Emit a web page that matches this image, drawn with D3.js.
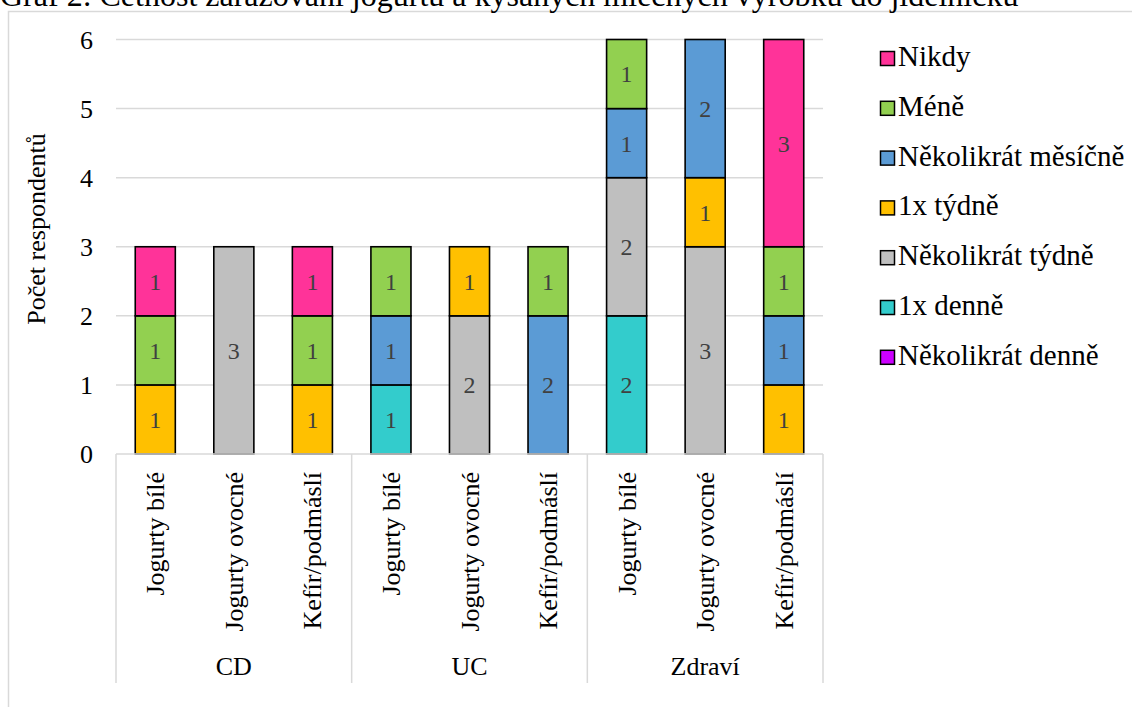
<!DOCTYPE html>
<html>
<head>
<meta charset="utf-8">
<script src="https://cdn.jsdelivr.net/npm/d3@7"></script>
<style>
  html, body { margin: 0; padding: 0; background: #fff; font-family: 'Liberation Serif'; }
  svg { display: block; font-family: 'Liberation Serif'; }
  text { font-family: 'Liberation Serif'; }
</style>
</head>
<body>
<svg id="chart" width="1132" height="707" font-family="Liberation Serif"></svg>
<script>
// Respondent groups and products (x axis, two levels)
const groups = ["CD", "UC", "Zdraví"];
const products = ["Jogurty bílé", "Jogurty ovocné", "Kefír/podmáslí"];

// Frequency answers, stacked from the bottom up
const seriesNames = ["Několikrát denně", "1x denně", "Několikrát týdně", "1x týdně", "Několikrát měsíčně", "Méně", "Nikdy"];
const seriesColors = ["#CC00FF", "#33CCCC", "#BFBFBF", "#FFC000", "#5B9BD5", "#92D050", "#FF3399"];

// Counts per bar, in order CD×3, UC×3, Zdraví×3
const nekolikratDenne  = [0, 0, 0, 0, 0, 0, 0, 0, 0];
const jednouDenne      = [0, 0, 0, 1, 0, 0, 2, 0, 0];
const nekolikratTydne  = [0, 3, 0, 0, 2, 0, 2, 3, 0];
const jednouTydne      = [1, 0, 1, 0, 1, 0, 0, 1, 1];
const nekolikratMesicne= [0, 0, 0, 1, 0, 2, 1, 2, 1];
const mene             = [1, 0, 1, 1, 0, 1, 1, 0, 1];
const nikdy            = [1, 0, 1, 0, 0, 0, 0, 0, 3];

const yTicks = [0, 1, 2, 3, 4, 5, 6];
const titleText = "Graf 2: Četnost zařazování jogurtů a kysaných mléčných výrobků do jídelníčku";
const yTitle = "Počet respondentů";

const seriesValues = [nekolikratDenne, jednouDenne, nekolikratTydne, jednouTydne, nekolikratMesicne, mene, nikdy];

// Build one row per bar
const rows = [];
groups.forEach((g, gi) => products.forEach((p, pi) => {
  const i = gi * products.length + pi;
  const row = { key: g + "|" + p, group: g, product: p };
  seriesNames.forEach((s, si) => { row[s] = seriesValues[si][i]; });
  rows.push(row);
}));

const svg = d3.select("#chart");
const gridColor = "#d9d9d9";

// Outer frame and title
svg.append("rect").attr("x", 8.5).attr("y", 11.5).attr("width", 1200).attr("height", 800)
  .attr("fill", "none").attr("stroke", gridColor).attr("stroke-width", 1.5);
svg.append("text").attr("x", 0).attr("y", 6).attr("font-size", 32).attr("fill", "#000").text(titleText);

const x = d3.scaleBand().domain(rows.map(r => r.key)).range([116, 823])
  .paddingInner(0.49).paddingOuter(0.245);
const y = d3.scaleLinear().domain([0, 6]).range([454, 39.5]);

// Horizontal gridlines
svg.append("g").selectAll("line").data(yTicks.filter(t => t > 0)).join("line")
  .attr("x1", 116).attr("x2", 823)
  .attr("y1", d => y(d)).attr("y2", d => y(d))
  .attr("stroke", gridColor).attr("stroke-width", 1.5);

// Y axis labels
const yAxis = d3.axisLeft(y).tickValues(yTicks).tickSize(0).tickPadding(0).tickFormat(d3.format("d"));
const yg = svg.append("g").attr("transform", "translate(93,0)").call(yAxis)
  .attr("font-size", 26).attr("font-family", null);
yg.select(".domain").remove();
yg.selectAll("text").attr("fill", "#000").attr("dy", "0.34em");

svg.append("text").attr("transform", "translate(45,229) rotate(-90)")
  .attr("text-anchor", "middle").attr("font-size", 26).attr("fill", "#000").text(yTitle);

// Stacked bars
const stack = d3.stack().keys(seriesNames);
const layers = stack(rows);
const layerG = svg.append("g").selectAll("g").data(layers).join("g")
  .attr("fill", (d, i) => seriesColors[i]);
layerG.selectAll("rect").data(d => d.filter(s => s[1] - s[0] > 0)).join("rect")
  .attr("x", d => x(d.data.key)).attr("width", x.bandwidth())
  .attr("y", d => y(d[1])).attr("height", d => y(d[0]) - y(d[1]))
  .attr("stroke", "#000").attr("stroke-width", 1.6);

// Value labels
layerG.selectAll("text").data(d => d.filter(s => s[1] - s[0] > 0)).join("text")
  .attr("x", d => x(d.data.key) + x.bandwidth() / 2)
  .attr("y", d => y((d[0] + d[1]) / 2))
  .attr("dy", "0.35em").attr("text-anchor", "middle")
  .attr("font-size", 24).attr("fill", "#404040")
  .text(d => d[1] - d[0]);

// Category axis: baseline, separators, labels
const axisBottom = 683;
svg.append("line").attr("x1", 116).attr("x2", 823).attr("y1", y(0)).attr("y2", y(0))
  .attr("stroke", gridColor).attr("stroke-width", 1.5);
const sepXs = groups.map((g, gi) => x(g + "|" + products[0]) - x.step() * x.paddingOuter());
sepXs.push(823);
svg.append("g").selectAll("line").data(sepXs).join("line")
  .attr("x1", d => d).attr("x2", d => d).attr("y1", y(0)).attr("y2", axisBottom)
  .attr("stroke", gridColor).attr("stroke-width", 1.5);

svg.append("g").selectAll("text").data(rows).join("text")
  .attr("transform", d => `translate(${x(d.key) + x.bandwidth() / 2 + 9},472) rotate(-90)`)
  .attr("text-anchor", "end").attr("font-size", 26).attr("fill", "#000")
  .text(d => d.product);

svg.append("g").selectAll("text").data(groups).join("text")
  .attr("x", (g, gi) => (sepXs[gi] + sepXs[gi + 1]) / 2).attr("y", 675)
  .attr("text-anchor", "middle").attr("font-size", 26).attr("fill", "#000")
  .text(d => d);

// Legend (top series first)
const legendItems = seriesNames.map((s, i) => ({ name: s, color: seriesColors[i] })).reverse();
const lg = svg.append("g").selectAll("g").data(legendItems).join("g")
  .attr("transform", (d, i) => `translate(880,${66 + i * 49.8})`);
lg.append("rect").attr("x", 0.5).attr("y", -14.5).attr("width", 14).attr("height", 14)
  .attr("fill", d => d.color).attr("stroke", "#000").attr("stroke-width", 1.5);
lg.append("text").attr("x", 18).attr("y", 0).attr("font-size", 29).attr("fill", "#000").text(d => d.name);

// Serif face on every label
svg.selectAll("text").attr("font-family", "Liberation Serif").style("font-family", "'Liberation Serif'");
</script>
</body>
</html>
